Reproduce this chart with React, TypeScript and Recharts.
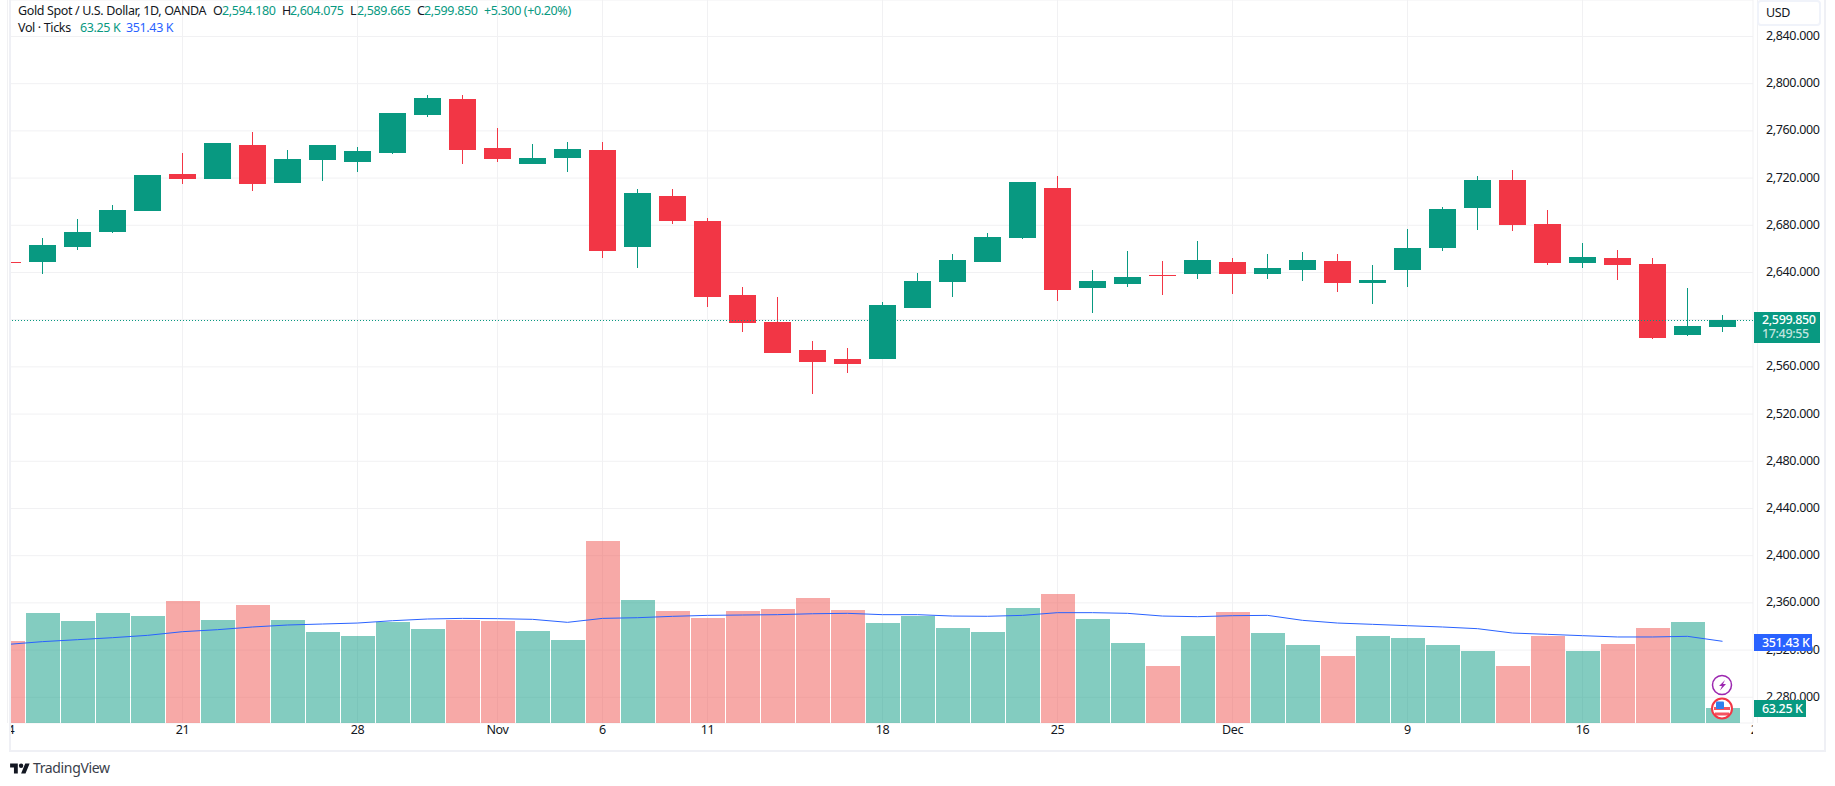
import { ComposedChart, Bar, Line, XAxis, YAxis, CartesianGrid, ReferenceLine } from 'recharts'

const UP = '#089981'
const DOWN = '#F23645'
const VOL_DOWN = '#EF5350'
const BLUE = '#2962FF'
const INK = '#131722'
const GRID = '#f1f1f3'
const FONT = '"Noto Sans", "Open Sans", sans-serif'
const TEXT_SIZE = 12.5
const TEXT_SPACING = '-0.36px'

const opens = [2648.7, 2648.7, 2661.4, 2674.2, 2692.0, 2723.3, 2719.1, 2747.9, 2715.7, 2735.2, 2733.5, 2741.1, 2773.3, 2786.9, 2745.3, 2731.8, 2736.9, 2743.6, 2661.4, 2704.7, 2683.5, 2620.8, 2597.9, 2574.2, 2566.5, 2566.5, 2609.7, 2631.8, 2648.7, 2669.1, 2711.4, 2626.7, 2630.1, 2637.7, 2638.6, 2648.7, 2638.6, 2642.0, 2649.6, 2630.9, 2642.0, 2660.6, 2694.5, 2718.2, 2680.9, 2647.9, 2652.1, 2647.0, 2586.9, 2594.18]
const highs = [2648.7, 2669.1, 2685.2, 2697.0, 2722.5, 2741.1, 2749.6, 2758.9, 2743.6, 2747.9, 2746.2, 2775.0, 2790.25, 2790.25, 2762.3, 2748.7, 2750.4, 2750.4, 2710.6, 2710.6, 2686.0, 2627.5, 2619.1, 2581.8, 2575.8, 2614.8, 2639.4, 2655.5, 2673.3, 2716.5, 2721.6, 2642.0, 2658.0, 2649.6, 2666.5, 2652.1, 2655.5, 2657.2, 2655.5, 2646.2, 2676.7, 2695.3, 2721.6, 2726.7, 2692.8, 2664.8, 2658.9, 2652.1, 2626.7, 2604.075]
const lows = [2647.9, 2638.6, 2658.9, 2673.3, 2692.0, 2714.8, 2719.1, 2708.9, 2715.7, 2717.4, 2725.0, 2740.3, 2771.6, 2731.8, 2733.5, 2731.8, 2725.0, 2652.1, 2643.6, 2680.9, 2610.6, 2589.4, 2571.6, 2536.9, 2554.7, 2566.5, 2609.7, 2619.1, 2648.7, 2668.2, 2615.7, 2605.5, 2627.5, 2620.8, 2634.3, 2621.6, 2634.3, 2632.6, 2623.3, 2613.1, 2627.5, 2658.0, 2675.8, 2675.0, 2646.2, 2643.6, 2633.5, 2583.5, 2586.0, 2589.665]
const closes = [2647.9, 2663.1, 2674.2, 2692.8, 2722.5, 2719.1, 2749.6, 2714.8, 2736.0, 2747.9, 2742.8, 2775.0, 2787.7, 2743.6, 2736.0, 2736.9, 2744.5, 2658.0, 2707.2, 2683.5, 2619.1, 2597.0, 2571.6, 2564.0, 2562.3, 2612.3, 2632.6, 2650.4, 2669.9, 2716.5, 2625.0, 2632.6, 2636.0, 2636.9, 2650.4, 2638.6, 2643.6, 2650.4, 2630.9, 2633.5, 2660.6, 2693.6, 2718.2, 2680.1, 2647.9, 2653.0, 2646.2, 2584.3, 2594.5, 2599.85]
const volumes = [352.7, 473, 438.7, 473, 460, 524.7, 443, 507.5, 443, 391.4, 374, 434.4, 404.3, 444.4, 438.7, 395.7, 357, 782.8, 529, 481.7, 451.6, 481.7, 490.3, 537.6, 486, 430, 460, 408.6, 391.4, 494.6, 554.8, 447.3, 344, 245, 374, 477.4, 387, 335.5, 288, 374, 365.6, 335.5, 309.7, 245, 374, 309.7, 339.8, 408.6, 434.4, 63.25]
const volumeMa = [338, 350, 358.4, 367, 377, 392.8, 401.4, 413, 421.5, 425.8, 430, 440, 447.3, 450, 448.8, 445.9, 433, 450, 453, 458.8, 463, 464.5, 466, 470, 471.7, 466, 466, 460, 459, 463, 474.6, 474.6, 471.7, 460, 457.3, 461.6, 463, 441.6, 430, 424.4, 418.6, 413, 405.7, 387, 381.4, 375.6, 370, 370, 372.8, 351.43]

// trading day index of each date label, weekends are not on the axis
const timeTicks = [0, 5, 10, 14, 17, 20, 25, 30, 35, 40, 45, 50]
const timeLabels = ['14', '21', '28', 'Nov', '6', '11', '18', '25', 'Dec', '9', '16', '23']
const priceTicks = [2280, 2320, 2360, 2400, 2440, 2480, 2520, 2560, 2600, 2640, 2680, 2720, 2760, 2800, 2840]

const lastClose = 2599.85
const indexDomain = [0.0714, 49.871]
const priceDomain = [2258.2, 2870.93]
const volumeDomain = [0, 3110]

const data = opens.map((open, i) => ({
  idx: i,
  open,
  high: highs[i],
  low: lows[i],
  close: closes[i],
  range: [lows[i], highs[i]],
  volume: volumes[i],
  ma: volumeMa[i],
}))

function Candle(props: any) {
  const { x, y, width, height, payload } = props
  const { open, close, high, low } = payload
  const color = close >= open ? UP : DOWN
  const perUnit = height / (high - low)
  const bodyTop = Math.round(y + (high - Math.max(open, close)) * perUnit)
  const bodyBottom = Math.round(y + (high - Math.min(open, close)) * perUnit)
  const left = Math.round(x)
  const wickTop = Math.round(y)
  return (
    <g>
      <rect x={left + 13} y={wickTop} width={1} height={Math.round(y + height) - wickTop} fill={color} />
      <rect x={left} y={bodyTop} width={width} height={Math.max(1, bodyBottom - bodyTop)} fill={color} />
    </g>
  )
}

function VolumeBar(props: any) {
  const { x, y, width, height, payload } = props
  return (
    <rect
      x={Math.floor(x)}
      y={Math.round(y)}
      width={width}
      height={Math.round(height)}
      fill={payload.close >= payload.open ? UP : VOL_DOWN}
      fillOpacity={0.5}
    />
  )
}

function TimeTick(props: any) {
  const { x, y, payload } = props
  const label = timeLabels[timeTicks.indexOf(payload.value)]
  return (
    <g>
      <clipPath id={`time-clip-${payload.value}`}>
        <rect x={11} y={720} width={1742} height={40} />
      </clipPath>
      <text
        x={x}
        y={y}
        dy={5}
        textAnchor="middle"
        fontSize={TEXT_SIZE}
        letterSpacing={TEXT_SPACING}
        fontFamily={FONT}
        fill={INK}
        clipPath={`url(#time-clip-${payload.value})`}
      >
        {label}
      </text>
    </g>
  )
}

function PriceLine(props: any) {
  const y = Math.round(props.y1) + 0.5
  return <line x1={props.x1} x2={props.x2} y1={y} y2={y} stroke={UP} strokeWidth={1} strokeDasharray="1 2" />
}

function Tag({ left, top, width, height, bg, children }: any) {
  return (
    <div
      style={{
        position: 'absolute',
        left,
        top,
        width,
        height,
        background: bg,
        color: '#fff',
        fontWeight: 500,
        lineHeight: `${height}px`,
        paddingLeft: 8,
        boxSizing: 'border-box',
        whiteSpace: 'nowrap',
      }}
    >
      {children}
    </div>
  )
}

function Label({ left, top, color = INK, children }: any) {
  return <span style={{ position: 'absolute', left, top, color, whiteSpace: 'nowrap', lineHeight: '16px' }}>{children}</span>
}

export default function App() {
  return (
    <div
      style={{
        position: 'absolute',
        left: 0,
        top: 0,
        width: 1835,
        height: 786,
        background: '#fff',
        overflow: 'hidden',
        fontFamily: FONT,
        fontSize: TEXT_SIZE,
        letterSpacing: TEXT_SPACING,
      }}
    >
      <ComposedChart
        width={1835}
        height={786}
        data={data}
        margin={{ top: 0, right: 10, bottom: 36, left: 10 }}
      >
        <CartesianGrid xAxisId="time" yAxisId="price" stroke={GRID} strokeWidth={1} />
        <XAxis
          xAxisId="time"
          type="number"
          dataKey="idx"
          domain={indexDomain}
          allowDataOverflow
          ticks={timeTicks}
          interval={0}
          height={27}
          axisLine={false}
          tickLine={false}
          tickMargin={0}
          tick={<TimeTick />}
        />
        <XAxis xAxisId="vol" type="number" dataKey="idx" domain={indexDomain} allowDataOverflow hide />
        <YAxis
          yAxisId="price"
          orientation="right"
          domain={priceDomain}
          allowDataOverflow
          ticks={priceTicks}
          interval={0}
          width={72}
          axisLine={false}
          tickLine={false}
          tickMargin={7}
          tick={{ fontSize: TEXT_SIZE, fill: INK, fontFamily: FONT, letterSpacing: TEXT_SPACING, dy: -1 }}
          tickFormatter={(v: number) =>
            v.toLocaleString('en-US', { minimumFractionDigits: 3, maximumFractionDigits: 3 })
          }
        />
        <YAxis yAxisId="volume" domain={volumeDomain} hide />
        <Bar
          xAxisId="vol"
          yAxisId="volume"
          dataKey="volume"
          barSize={34}
          shape={<VolumeBar />}
          isAnimationActive={false}
        />
        <Line
          xAxisId="vol"
          yAxisId="volume"
          dataKey="ma"
          type="linear"
          stroke={BLUE}
          strokeWidth={1}
          dot={false}
          activeDot={false}
          isAnimationActive={false}
        />
        <Bar
          xAxisId="time"
          yAxisId="price"
          dataKey="range"
          barSize={27}
          shape={<Candle />}
          isAnimationActive={false}
        />
        <ReferenceLine xAxisId="time" yAxisId="price" y={lastClose} shape={<PriceLine />} />
      </ComposedChart>

      {/* frame */}
      <div style={{ position: 'absolute', left: 9, top: 0, width: 2, height: 751, background: '#eff0f5' }} />
      <div style={{ position: 'absolute', left: 1824, top: 0, width: 2, height: 751, background: '#eff0f5' }} />
      <div style={{ position: 'absolute', left: 9, top: 750, width: 1817, height: 2, background: '#eff0f5' }} />

      {/* legend */}
      <Label left={18} top={3}>Gold Spot / U.S. Dollar, 1D, OANDA</Label>
      <Label left={213} top={3}>O</Label>
      <Label left={222} top={3} color={UP}>2,594.180</Label>
      <Label left={282} top={3}>H</Label>
      <Label left={290} top={3} color={UP}>2,604.075</Label>
      <Label left={350} top={3}>L</Label>
      <Label left={357} top={3} color={UP}>2,589.665</Label>
      <Label left={417} top={3}>C</Label>
      <Label left={424} top={3} color={UP}>2,599.850</Label>
      <Label left={484} top={3} color={UP}>+5.300 (+0.20%)</Label>
      <Label left={18} top={20}>Vol · Ticks</Label>
      <Label left={80} top={20} color={UP}>63.25 K</Label>
      <Label left={126} top={20} color={BLUE}>351.43 K</Label>

      {/* currency button */}
      <div
        style={{
          position: 'absolute',
          left: 1757,
          top: 0,
          width: 64,
          height: 26,
          border: '2px solid #f0f3fa',
          borderRadius: 4,
          boxSizing: 'border-box',
          paddingLeft: 7,
          lineHeight: '22px',
          color: INK,
          background: '#fff',
        }}
      >
        USD
      </div>

      {/* price tags */}
      <div
        style={{
          position: 'absolute',
          left: 1754,
          top: 312,
          width: 66,
          height: 31,
          background: UP,
          color: '#fff',
          fontWeight: 500,
          paddingLeft: 8,
          boxSizing: 'border-box',
          lineHeight: '14px',
          paddingTop: 1,
        }}
      >
        <div>2,599.850</div>
        <div style={{ color: 'rgba(255,255,255,0.75)' }}>17:49:55</div>
      </div>
      <Tag left={1754} top={634} width={58} height={17} bg={BLUE}>351.43 K</Tag>
      <Tag left={1754} top={700} width={52} height={17} bg={UP}>63.25 K</Tag>

      {/* event markers */}
      <svg style={{ position: 'absolute', left: 1708, top: 672, overflow: 'visible' }} width={28} height={52}>
        <circle cx={14} cy={13} r={9.5} fill="#fff" stroke="#9c27b0" strokeWidth={1.5} />
        <path d="M17 8 L11 14 L14 14 L12 18.5 L18 12 L15 12 Z" fill="#9c27b0" />
        <circle cx={14} cy={36.5} r={10} fill="#fff" stroke={DOWN} strokeWidth={2} />
        <rect x={6} y={35} width={16} height={3} fill={DOWN} fillOpacity={0.85} />
        <rect x={7} y={40.5} width={14} height={3} fill={DOWN} fillOpacity={0.85} />
        <rect x={8} y={29.5} width={8} height={7.5} rx={1} fill="#2f80ed" />
      </svg>

      {/* logo */}
      <svg style={{ position: 'absolute', left: 10, top: 763 }} width={20} height={11} viewBox="0 3 36 20">
        <path d="M14 22H7V11H0V4h14v18zM28 22h-8l7.5-18h8L28 22z" fill={INK} />
        <circle cx={20} cy={8} r={4} fill={INK} />
      </svg>
      <span style={{ position: 'absolute', left: 33, top: 760, fontSize: 14, lineHeight: '16px', color: '#3a3e4a' }}>
        TradingView
      </span>
    </div>
  )
}
